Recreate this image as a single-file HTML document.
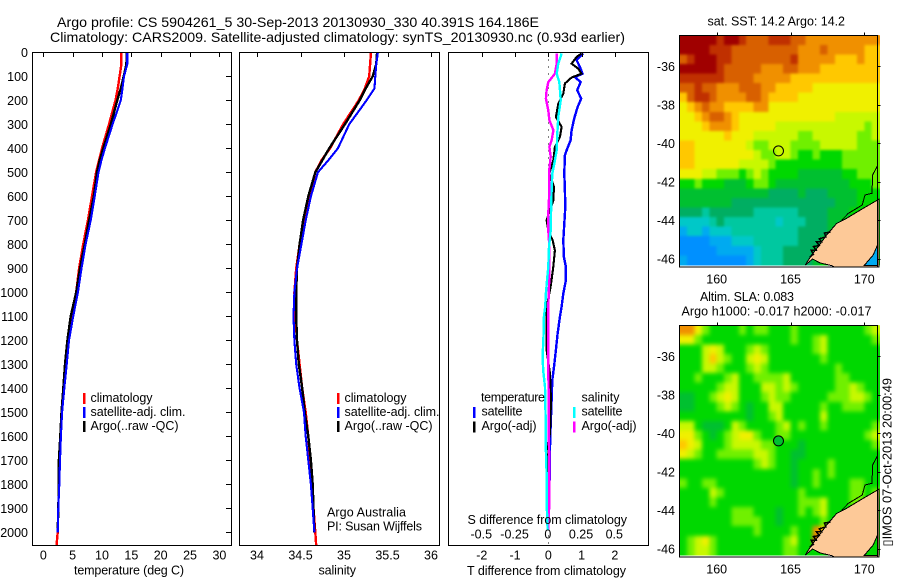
<!DOCTYPE html>
<html lang="en">
<head>
<meta charset="utf-8">
<title>Argo profile</title>
<style>
html,body{margin:0;padding:0;background:#fff;width:900px;height:580px;overflow:hidden}
svg{display:block;font-family:"Liberation Sans",sans-serif;font-size:12.5px;fill:#000}
.m{text-anchor:middle}
.e{text-anchor:end}
.f{fill:none;stroke:#000;stroke-width:1}
.t{stroke:#000;stroke-width:1}
</style>
</head>
<body>
<svg id="chart" xmlns="http://www.w3.org/2000/svg" width="900" height="580" viewBox="0 0 900 580" shape-rendering="crispEdges">
<defs>
<filter id="blurSst" x="0" y="0" width="1" height="1" color-interpolation-filters="sRGB">
<feGaussianBlur stdDeviation="1.4"/>
<feComponentTransfer><feFuncA type="linear" slope="3"/></feComponentTransfer>
</filter>
<filter id="blurSla" x="0" y="0" width="1" height="1" color-interpolation-filters="sRGB">
<feGaussianBlur stdDeviation="2.2"/>
<feComponentTransfer><feFuncA type="linear" slope="3"/></feComponentTransfer>
</filter>
</defs>
<rect x="0" y="0" width="900" height="580" fill="#fff"/>
<text x="57" y="27" font-size="14" textLength="482" lengthAdjust="spacingAndGlyphs">Argo profile: CS 5904261_5 30-Sep-2013 20130930_330 40.391S 164.186E</text>
<text x="50" y="42" font-size="14" textLength="575" lengthAdjust="spacingAndGlyphs">Climatology: CARS2009. Satellite-adjusted climatology: synTS_20130930.nc (0.93d earlier)</text>

<g id="panels"></g>
<g id="maps"></g>

<g>
<rect x="83" y="393" width="2.5" height="11" fill="#f00"/>
<rect x="83" y="407" width="2.5" height="11" fill="#00f"/>
<rect x="83" y="421" width="2.5" height="11" fill="#000"/>
<text x="90.5" y="402" textLength="62">climatology</text>
<text x="90.5" y="416" textLength="95">satellite-adj. clim.</text>
<text x="90.5" y="430" textLength="88">Argo(..raw -QC)</text>
</g>
<g>
<rect x="337" y="393" width="2.5" height="11" fill="#f00"/>
<rect x="337" y="407" width="2.5" height="11" fill="#00f"/>
<rect x="337" y="421" width="2.5" height="11" fill="#000"/>
<text x="344.5" y="402" textLength="62">climatology</text>
<text x="344.5" y="416" textLength="95">satellite-adj. clim.</text>
<text x="344.5" y="430" textLength="88">Argo(..raw -QC)</text>
<text x="327" y="516.5" textLength="79">Argo Australia</text>
<text x="327" y="530.5" textLength="95">PI: Susan Wijffels</text>
</g>
<g>
<text x="481" y="401.5" textLength="64">temperature</text>
<rect x="473" y="407" width="2.5" height="11" fill="#00f"/>
<rect x="473" y="421.5" width="2.5" height="11" fill="#000"/>
<text x="481.5" y="415.5" textLength="41">satellite</text>
<text x="481.5" y="430" textLength="55">Argo(-adj)</text>
<text x="581.5" y="401.5" textLength="38">salinity</text>
<rect x="573" y="407" width="2.5" height="11" fill="#0ff"/>
<rect x="573" y="421.5" width="2.5" height="11" fill="#f0f"/>
<text x="581.5" y="415.5" textLength="41">satellite</text>
<text x="581.5" y="430" textLength="55">Argo(-adj)</text>
</g>

<text x="74" y="574.5" textLength="110">temperature (deg C)</text>
<text x="318.5" y="574.5" textLength="37.5">salinity</text>
<text x="467.5" y="524" textLength="159.5">S difference from climatology</text>
<text x="467" y="575" textLength="159">T difference from climatology</text>

<text x="707.5" y="25.5" textLength="137.5">sat. SST: 14.2 Argo: 14.2</text>
<text x="700" y="301" textLength="94">Altim. SLA: 0.083</text>
<text x="681.5" y="315.5" textLength="190">Argo h1000: -0.017 h2000: -0.017</text>
<text transform="translate(891.5 546.5) rotate(-90)" textLength="168.5" lengthAdjust="spacingAndGlyphs">▯IMOS 07-Oct-2013 20:00:49</text>
</svg>

<script>
// ---------- profile data ----------
var depthLevels = [0,50,100,150,200,300,400,450,500,600,700,800,900,1000,1100,1200,1300,1400,1500,1600,1700,1800,1900,2000,2055];
var tempClimatology = [13.3,13.3,13.0,12.7,12.3,11.2,10.0,9.5,9.0,8.3,7.6,6.8,6.1,5.6,4.7,4.15,3.75,3.45,3.1,2.95,2.75,2.65,2.55,2.45,2.25];
var tempSatellite = [14.3,14.3,13.75,13.5,13.2,11.8,10.5,9.9,9.4,8.75,8.07,7.2,6.5,5.9,5.1,4.38,3.98,3.58,3.2,3.0,2.84,2.73,2.56,2.45];
var tempArgo = [14.2,14.15,13.7,13.2,12.6,11.5,10.2,9.6,9.15,8.6,7.8,7.05,6.25,5.6,4.66,4.1,3.7,3.4,3.1,2.9,2.65,2.65,2.55,2.45];
var salClimatology = [35.31,35.3,35.29,35.24,35.17,34.99,34.84,34.74,34.67,34.6,34.54,34.49,34.45,34.43,34.44,34.46,34.49,34.52,34.56,34.59,34.61,34.63,34.65,34.67,34.68];
var salSatellite = [35.39,35.37,35.36,35.35,35.26,35.06,34.93,34.82,34.7,34.62,34.56,34.51,34.46,34.43,34.42,34.43,34.45,34.49,34.54,34.56,34.59,34.62,34.64,34.66];
var salArgo = [35.38,35.37,35.33,35.25,35.18,35.01,34.83,34.75,34.67,34.59,34.53,34.49,34.46,34.45,34.45,34.46,34.48,34.52,34.55,34.59,34.62,34.64,34.65,34.66];

var dtSatDepth = [5,33,61,89,103,124,158,193,228,276,325,367,401,429,505,575,645,783,853,894,950,1005,1060,1103,1172,1241,1311,1366,1450,1561,1644,1866,1991];
var dtSatValue = [1.05,.85,.95,1.03,.8,.97,.87,.99,.88,.78,.7,.67,.57,.5,.48,.5,.51,.45,.47,.53,.53,.45,.4,.35,.28,.23,.17,.12,.1,.07,.05,.03,0];
var dtArgoDepth = [5,19,47,68,89,105,130,172,214,269,311,353,394,450,505,561,617,700,742,783,825,894,978,1061,1103,1241,1339,1450,1589,1658,1755,1866,1991];
var dtArgoValue = [1.0,.85,.7,.9,1.0,.7,.5,.45,.3,.23,.4,.35,.2,.15,.03,.17,.15,-.05,0,.13,.2,.15,.07,-.05,-.05,-.05,.05,.08,.05,-.05,-.03,0,0];
var dsSatDepth = [5,47,89,124,158,200,269,339,408,464,505,575,672,742,811,894,950,1005,1061,1103,1172,1269,1325,1394,1519,1658,1755,1866,1991];
var dsSatValue = [.1,.075,.063,.083,.088,.093,.075,.068,.063,.045,.03,.025,.02,.018,.005,0,-.01,-.018,-.023,-.033,-.035,-.043,-.038,-.025,-.02,-.018,-.013,-.013,-.005];
var dsArgoDepth = [5,47,89,124,158,193,242,283,325,367,394,436,485,575,672,742,811,922,1061,1172,1311,1450,1589,1727,1866,1991];
var dsArgoValue = [.063,.063,.05,0,-.013,-.018,0,.008,.038,.025,.008,.018,.008,.008,0,0,.008,.008,0,0,0,.003,.003,.008,.008,0];

// ---------- tick labels ----------
var depthTicks = [0,100,200,300,400,500,600,700,800,900,1000,1100,1200,1300,1400,1500,1600,1700,1800,1900,2000];
var tempTicks = [0,5,10,15,20,25,30];
var salTicks = [34,34.5,35,35.5,36];
var tDiffTicks = [-2,-1,0,1,2];
var sDiffTicks = [-0.5,-0.25,0,0.25,0.5];
var lonTicks = [160,165,170];
var latTicks = [-36,-38,-40,-42,-44,-46];

// ---------- map data: colour-level per half-degree cell ----------
var sstLevels = [
[14,14,14,14,14,13,14,14,13,12,12,12,13,13,13,12,12,11,11,11,11,11,11,11,11,11,11],
[14,14,14,14,13,13,13,12,12,12,12,12,12,12,12,12,11,11,11,12,11,11,11,11,11,10,10],
[12,13,14,14,14,13,13,12,12,12,12,12,12,12,12,13,11,11,11,11,11,10,10,10,11,10,10],
[14,14,14,14,14,13,12,12,12,12,12,11,11,11,12,12,11,11,11,10,10,10,10,10,10,10,10],
[13,13,13,13,13,13,12,12,12,12,11,11,11,11,11,10,10,10,10,10,10,10,10,10,10,10,10],
[12,12,13,12,12,11,11,11,12,12,12,11,11,10,10,10,10,10,9,9,9,9,9,9,9,9,9],
[10,12,13,13,12,11,11,11,11,12,12,11,10,10,10,10,9,9,9,9,9,9,9,9,9,9,9],
[9,10,11,12,11,11,10,10,10,10,11,11,9,9,9,9,9,9,9,9,9,9,9,9,9,9,9],
[9,9,10,11,12,12,11,10,9,9,9,9,9,9,9,9,9,9,9,9,9,8,8,8,8,8,8],
[9,9,9,10,11,11,11,10,9,9,9,9,9,8,8,8,8,8,8,8,8,8,8,8,8,7,8],
[9,9,9,9,9,9,10,9,9,9,8,8,8,8,8,8,7,7,8,8,8,8,8,8,7,7,8],
[10,10,9,9,9,9,9,9,9,8,7,7,8,8,8,7,7,7,7,8,8,8,8,8,7,7,7],
[10,10,9,9,9,9,9,9,9,9,8,7,7,8,8,7,6,6,7,6,6,6,7,7,7,7,7],
[10,10,9,9,9,9,9,9,8,8,8,8,7,6,6,6,6,6,6,6,6,6,7,7,7,7,7],
[9,9,9,8,8,7,7,7,6,7,8,7,6,6,6,6,5,5,5,5,5,5,6,6,7,7,7],
[6,6,7,6,6,6,5,5,5,6,7,7,6,5,5,5,5,5,5,5,5,5,5,6,6,6,7],
[5,5,5,5,5,5,5,5,5,5,5,5,4,4,4,4,5,4,4,4,5,5,5,5,6,6,6],
[5,5,5,5,5,5,5,4,4,4,4,4,4,4,4,4,4,4,4,4,4,5,5,5,6,6,6],
[4,4,4,3,4,4,4,4,4,4,3,3,3,3,3,3,4,4,4,4,5,5,5,6,6,6,6],
[2,2,2,2,3,4,3,3,3,3,3,3,3,2,3,3,3,4,4,4,5,5,6,6,6,6,6],
[1,2,2,1,2,2,2,3,3,3,3,3,3,3,3,3,4,4,4,4,5,6,6,6,6,6,6],
[0,0,0,0,1,1,1,2,2,2,3,3,3,3,3,3,4,4,4,5,6,6,6,6,6,6,6],
[0,0,0,0,0,1,1,1,1,1,2,3,3,3,4,4,4,4,5,6,6,6,6,6,6,6,6],
[1,0,0,0,0,0,0,0,0,1,2,3,3,3,4,4,4,4,5,6,6,6,6,6,6,6,6]
];
var slaLevels = [
[11,11,9,7,6,6,6,6,7,6,7,7,6,6,6,7,6,6,6,6,6,6,6,6,6,7,8],
[9,9,7,6,6,6,6,6,6,6,6,6,6,6,6,7,6,6,7,8,6,6,6,6,6,6,7],
[6,6,6,8,9,8,6,6,6,7,8,7,6,6,6,6,6,6,7,8,6,6,6,6,6,6,6],
[6,6,6,8,10,8,7,6,6,8,9,8,6,6,6,6,6,6,6,7,6,6,6,6,6,6,6],
[6,6,6,8,8,7,6,6,6,7,8,7,6,6,6,6,6,6,6,6,6,7,6,6,6,6,6],
[6,6,7,6,6,6,7,8,6,6,7,7,7,7,8,6,6,6,6,6,6,7,7,6,6,6,6],
[6,6,6,6,6,7,8,8,6,6,6,8,8,7,8,7,6,6,6,6,6,7,7,8,7,6,6],
[5,5,6,6,7,8,9,8,6,6,6,7,8,7,7,6,6,6,6,6,7,7,7,8,8,7,6],
[5,5,6,6,6,7,8,7,6,5,6,6,8,8,6,6,6,6,6,7,6,6,7,7,7,6,6],
[6,6,6,6,6,6,6,6,6,5,6,6,7,8,6,6,6,6,6,8,6,6,6,6,6,6,6],
[8,8,6,5,5,5,6,8,7,6,6,6,6,7,8,6,7,6,6,7,6,6,6,6,6,6,7],
[9,9,7,6,5,6,7,8,9,9,7,6,6,7,7,6,6,6,6,6,6,6,6,6,6,7,8],
[10,9,8,6,6,6,7,8,8,8,8,7,7,6,6,6,5,6,6,6,6,6,6,6,6,6,7],
[9,8,7,6,6,7,7,7,7,7,8,8,7,6,6,5,5,6,6,6,6,6,6,6,6,6,6],
[6,6,6,6,6,6,6,6,6,6,7,8,7,6,6,5,6,6,6,6,7,6,6,6,6,6,6],
[6,6,6,6,6,6,6,6,6,6,6,6,6,6,6,5,6,6,7,6,7,6,6,6,6,6,6],
[7,6,6,7,7,6,6,6,6,6,6,6,6,6,6,5,6,6,7,6,6,6,6,7,7,6,6],
[6,6,6,6,8,7,6,6,6,6,6,6,6,6,6,6,7,6,6,6,6,6,6,7,7,6,7],
[6,6,6,6,7,6,6,6,6,6,6,6,6,6,6,6,7,7,7,8,6,6,6,7,7,6,6],
[6,6,6,6,6,6,6,7,7,7,6,6,6,5,6,6,7,6,7,8,6,6,6,6,6,6,6],
[6,6,6,6,6,6,6,7,7,7,7,6,6,5,6,6,6,6,6,7,6,6,6,6,6,6,6],
[6,6,6,6,6,6,6,6,6,6,7,6,6,6,6,7,6,6,11,10,6,6,6,6,6,6,6],
[6,7,8,9,7,6,6,6,6,6,6,6,6,6,7,8,6,6,12,6,6,6,6,6,6,6,6],
[6,7,8,8,7,6,6,6,6,6,6,6,6,6,7,7,6,6,6,6,6,6,6,6,6,6,6]
];
var levelColours = ['#0090ff','#00aaf0','#00c8c8','#00c8a0','#00ae62','#00c030','#00d800','#70f000','#c8f800','#f0f000','#ffc800','#f09000','#d86000','#c03000','#a00000'];

// ---------- geography ----------
var landLon = [171,169.93,168.8,168.13,167.45,166.88,166.43,166.0,166.5,167,167.8,168,171];
var landLat = [-42.89,-43.37,-43.89,-44.15,-44.75,-45.36,-45.79,-46.31,-46.0,-46.2,-46.35,-46.42,-46.42];
var contourLon = [170.9,170.56,170.52,170.05,169.86,168.92,168.47];
var contourLat = [-41.16,-41.64,-42.59,-42.68,-43.2,-43.63,-43.98];
var reefLon = [166.3,166.55,166.4,166.75,166.55,166.95,166.75,167.1,166.95,167.4,167.3,167.7];
var reefLat = [-45.9,-45.75,-45.55,-45.55,-45.35,-45.3,-45.1,-45.1,-44.95,-44.85,-44.65,-44.6];
var lakeLon = [170.9,170.6,169.98,170.9];
var lakeLat = [-45.27,-45.79,-46.35,-46.35];
var argoLon = 164.186;
var argoLat = -40.391;

// ---------- axes ----------
var PANEL_TOP = 52.5, PANEL_BOTTOM = 545.5;
function yDepth(d){ return 52.3 + d * 0.24; }
function xTemp(t){ return 43.3 + t * 5.87; }
function xSal(s){ return 257 + (s - 34) * 87; }
function xTDiff(t){ return 548.3 + t * 33.25; }
function xSDiff(s){ return 548.3 + s * 133; }
function xLon(l){ return 716.7 + (l - 160) * 14.76; }
function yLatSst(l){ return 66.3 + (-36 - l) * 19.27; }
function yLatSla(l){ return 356.3 + (-36 - l) * 19.27; }

var NS = 'http://www.w3.org/2000/svg';
var panels = document.getElementById('panels');
var maps = document.getElementById('maps');

function make(tag, parent, attrs){
  var el = document.createElementNS(NS, tag);
  for (var k in attrs) { el.setAttribute(k, attrs[k]); }
  parent.appendChild(el);
  return el;
}

function drawFrame(parent, x0, y0, x1, y1){
  var r = make('rect', parent, {x:x0, y:y0, width:x1-x0, height:y1-y0, 'class':'f'});
  
  
}

function drawTick(parent, x1, y1, x2, y2){
  var l = make('line', parent, {x1:x1, y1:y1, x2:x2, y2:y2, 'class':'t'});
  
  
}

function drawLabel(parent, x, y, text, cls){
  var t = make('text', parent, {x:x, y:y, 'class':cls});
  t.textContent = text;
  
  
}

function drawSeries(parent, name, colour, width, depths, values, xFn){
  var pts = [];
  for (var i = 0; i < values.length; i++) {
    pts.push(xFn(values[i]).toFixed(1) + ',' + yDepth(depths[i]).toFixed(1));
  }
  var p = make('polyline', parent, {points:pts.join(' '), fill:'none', stroke:colour, 'stroke-width':width});
  
  
}

// temperature panel
var g1 = make('g', panels, {});


drawSeries(g1, 'temperature-climatology-line', '#f00', 2.4, depthLevels, tempClimatology, xTemp);
drawSeries(g1, 'temperature-argo-line', '#000', 2.4, depthLevels, tempArgo, xTemp);
drawSeries(g1, 'temperature-satellite-line', '#00f', 2.1, depthLevels, tempSatellite, xTemp);
drawFrame(g1, 32.5, PANEL_TOP, 231.5, PANEL_BOTTOM);
depthTicks.forEach(function(d){
  var y = Math.round(yDepth(d)) + 0.5;
  if (d > 0) { drawTick(g1, 226, y, 231.5, y); }
  drawLabel(g1, 28, yDepth(d) + 4.5, String(d), 'e');
});
tempTicks.forEach(function(t){
  var x = Math.round(xTemp(t)) + 0.5;
  drawTick(g1, x, PANEL_TOP, x, PANEL_TOP + 4.5);
  drawLabel(g1, xTemp(t), 559.5, String(t), 'm');
});

// salinity panel
var g2 = make('g', panels, {});


drawSeries(g2, 'salinity-climatology-line', '#f00', 2.4, depthLevels, salClimatology, xSal);
drawSeries(g2, 'salinity-argo-line', '#000', 2.4, depthLevels, salArgo, xSal);
drawSeries(g2, 'salinity-satellite-line', '#00f', 2.1, depthLevels, salSatellite, xSal);
drawFrame(g2, 239.5, PANEL_TOP, 439.5, PANEL_BOTTOM);
salTicks.forEach(function(s){
  var x = Math.round(xSal(s)) + 0.5;
  drawTick(g2, x, PANEL_TOP, x, PANEL_TOP + 4.5);
  drawLabel(g2, xSal(s), 559.5, String(s), 'm');
});

// difference panel
var g3 = make('g', panels, {});


var zero = make('line', g3, {x1:xTDiff(0), y1:PANEL_TOP, x2:xTDiff(0), y2:PANEL_BOTTOM, stroke:'#000', 'stroke-width':1, 'stroke-dasharray':'1 6'});


drawSeries(g3, 't-diff-satellite-line', '#00f', 2.4, dtSatDepth, dtSatValue, xTDiff);
drawSeries(g3, 't-diff-argo-line', '#000', 2.1, dtArgoDepth, dtArgoValue, xTDiff);
drawSeries(g3, 's-diff-argo-line', '#f0f', 2.4, dsArgoDepth, dsArgoValue, xSDiff);
drawSeries(g3, 's-diff-satellite-line', '#0ff', 2.4, dsSatDepth, dsSatValue, xSDiff);
drawFrame(g3, 448.5, PANEL_TOP, 648.5, PANEL_BOTTOM);
tDiffTicks.forEach(function(t){
  var x = Math.round(xTDiff(t)) + 0.5;
  drawTick(g3, x, PANEL_TOP, x, PANEL_TOP + 4.5);
  drawLabel(g3, xTDiff(t), 559.5, String(t), 'm');
});
sDiffTicks.forEach(function(s){
  drawLabel(g3, xSDiff(s) - 0.5, 538.5, String(s), 'm');
});

// maps
function polyPoints(lons, lats, yFn){
  var pts = [];
  for (var i = 0; i < lons.length; i++) {
    pts.push(xLon(lons[i]).toFixed(1) + ',' + yFn(lats[i]).toFixed(1));
  }
  return pts.join(' ');
}

function drawMap(levels, name, yFn, lakeColour, markerFill, top, bottom, blurId){
  var g = make('g', maps, {});
  
  
  var cells = make('g', g, {filter:'url(#' + blurId + ')'});
  
  
  var latStep = 0.4965, lonStep = 0.5, lon0 = 157.5, lat0 = -34.39;
  levels.forEach(function(row, j){
    row.forEach(function(v, i){
      var x0 = xLon(lon0 + i * lonStep), x1 = xLon(lon0 + (i + 1) * lonStep);
      var y0 = yFn(lat0 - j * latStep), y1 = yFn(lat0 - (j + 1) * latStep);
      var c = make('rect', cells, {x:x0.toFixed(1), y:y0.toFixed(1), width:(x1 - x0 + 0.6).toFixed(1), height:(y1 - y0 + 0.6).toFixed(1), fill:levelColours[v]});
      
      
    });
  });
  var land = make('polygon', g, {points:polyPoints(landLon, landLat, yFn), fill:'#fdc998', stroke:'#000', 'stroke-width':1});
  
  
  var lake = make('polygon', g, {points:polyPoints(lakeLon, lakeLat, yFn), fill:lakeColour, stroke:'#000', 'stroke-width':1});
  
  
  var contour = make('polyline', g, {points:polyPoints(contourLon, contourLat, yFn), fill:'none', stroke:'#000', 'stroke-width':1});
  
  
  var reef = make('polyline', g, {points:polyPoints(reefLon, reefLat, yFn), fill:'none', stroke:'#000', 'stroke-width':1.5});
  
  
  drawFrame(g, 679.5, top, 877.5, bottom);
  lonTicks.forEach(function(l){
    var x = Math.round(xLon(l)) + 0.5;
    drawTick(g, x, top - 3, x, top);
    drawLabel(g, xLon(l), bottom + 16.5, String(l), 'm');
  });
  latTicks.forEach(function(l){
    var y = Math.round(yFn(l)) + 0.5;
    drawTick(g, 877.5, y, 880.5, y);
    drawLabel(g, 675, yFn(l) + 4.5, String(l), 'e');
  });
  var marker = make('circle', g, {cx:xLon(argoLon), cy:yFn(argoLat), r:5, fill:markerFill, stroke:'#000', 'stroke-width':1, 'shape-rendering':'auto'});
  
  
}

drawMap(sstLevels, 'sst-map', yLatSst, '#00aaf0', 'none', 35.5, 267, 'blurSst');
drawMap(slaLevels, 'sla-map', yLatSla, '#00d800', '#00c030', 325.5, 557, 'blurSla');
</script>
</body>
</html>
